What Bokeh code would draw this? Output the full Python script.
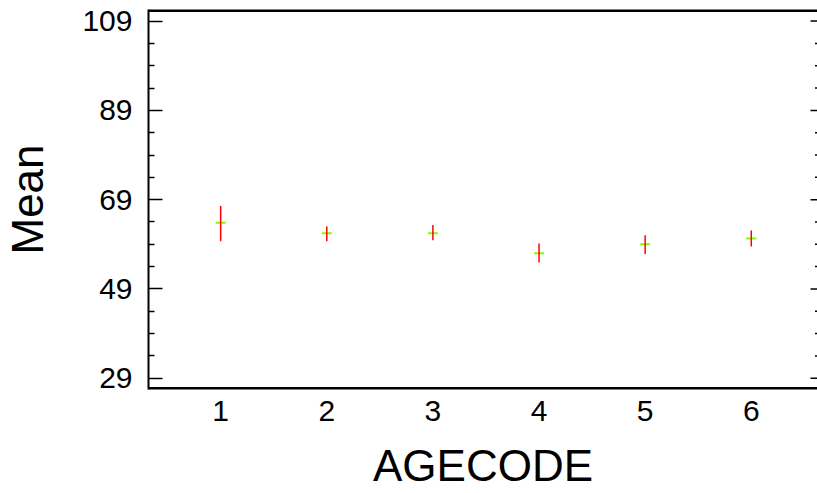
from bokeh.plotting import figure
from bokeh.models import Range1d, LinearAxis, FixedTicker
from bokeh.embed import file_html
from bokeh.resources import INLINE

# data
agecode = [1, 2, 3, 4, 5, 6]
mean = [63.8, 61.5, 61.5, 57.0, 59.0, 60.3]
lower = [59.7, 59.7, 59.9, 54.9, 56.8, 58.5]
upper = [67.6, 63.0, 63.3, 59.2, 61.0, 62.1]
y_ticks = [29, 49, 69, 89, 109]
y_minor = [v for v in range(29, 110, 5) if v not in y_ticks]
x_ticks = agecode

FONT = "Liberation Sans"

xr = Range1d(0.32, 6.624)
yr = Range1d(26.47, 111.6)
p = figure(width=817, height=493, output_backend="svg", toolbar_location=None,
           x_range=xr, y_range=yr,
           min_border_left=145, min_border_right=0, min_border_top=9,
           min_border_bottom=104)
p.xaxis.visible = False
p.yaxis.visible = False
p.xgrid.visible = False
p.ygrid.visible = False
p.outline_line_color = None
p.background_fill_color = "white"
p.border_fill_color = "white"

ytick = FixedTicker(ticks=y_ticks, minor_ticks=y_minor)

left = LinearAxis(ticker=ytick, axis_label="Mean")
left.axis_line_width = 2
left.major_tick_in = 14
left.major_tick_out = 0
left.minor_tick_in = 6
left.minor_tick_out = 0
left.major_tick_line_width = 1.5
left.minor_tick_line_width = 1.5
left.major_label_standoff = 16
left.major_label_text_font = FONT
left.major_label_text_font_size = "30px"
left.major_label_text_color = "black"
left.axis_label_text_font = FONT
left.axis_label_text_font_size = "44px"
left.axis_label_text_font_style = "normal"
left.axis_label_text_color = "black"
left.axis_label_standoff = 27
p.add_layout(left, "left")

bottom = LinearAxis(ticker=FixedTicker(ticks=x_ticks, minor_ticks=[]), axis_label="AGECODE")
bottom.axis_line_color = None
bottom.major_tick_in = 0
bottom.major_tick_out = 0
bottom.minor_tick_in = 0
bottom.minor_tick_out = 0
bottom.major_label_standoff = 11
bottom.major_label_text_font = FONT
bottom.major_label_text_font_size = "30px"
bottom.major_label_text_color = "black"
bottom.axis_label_text_font = FONT
bottom.axis_label_text_font_size = "44px"
bottom.axis_label_text_font_style = "normal"
bottom.axis_label_text_color = "black"
bottom.axis_label_standoff = 17
p.add_layout(bottom, "below")

# top and bottom frame lines (clipped to the plot area), full width
p.segment(x0=[xr.start, xr.start], y0=[yr.end, yr.start],
          x1=[xr.end, xr.end], y1=[yr.end, yr.start],
          line_color="black", line_width=5)

# right-hand tick marks (inward) at the right edge of the plot area
p.scatter(x=[xr.end] * len(y_ticks), y=y_ticks, marker="dash", size=14,
          line_color="black", line_width=1.5)
p.scatter(x=[xr.end] * len(y_minor), y=y_minor, marker="dash", size=5,
          line_color="black", line_width=1.5)

p.scatter(x=agecode, y=mean, marker="dash", size=10, line_color="#80ff00",
          line_width=2)
p.segment(x0=agecode, y0=lower, x1=agecode, y1=upper, line_color="#ff0000",
          line_width=1.5)

open("out.html", "w").write(file_html(p, INLINE))
